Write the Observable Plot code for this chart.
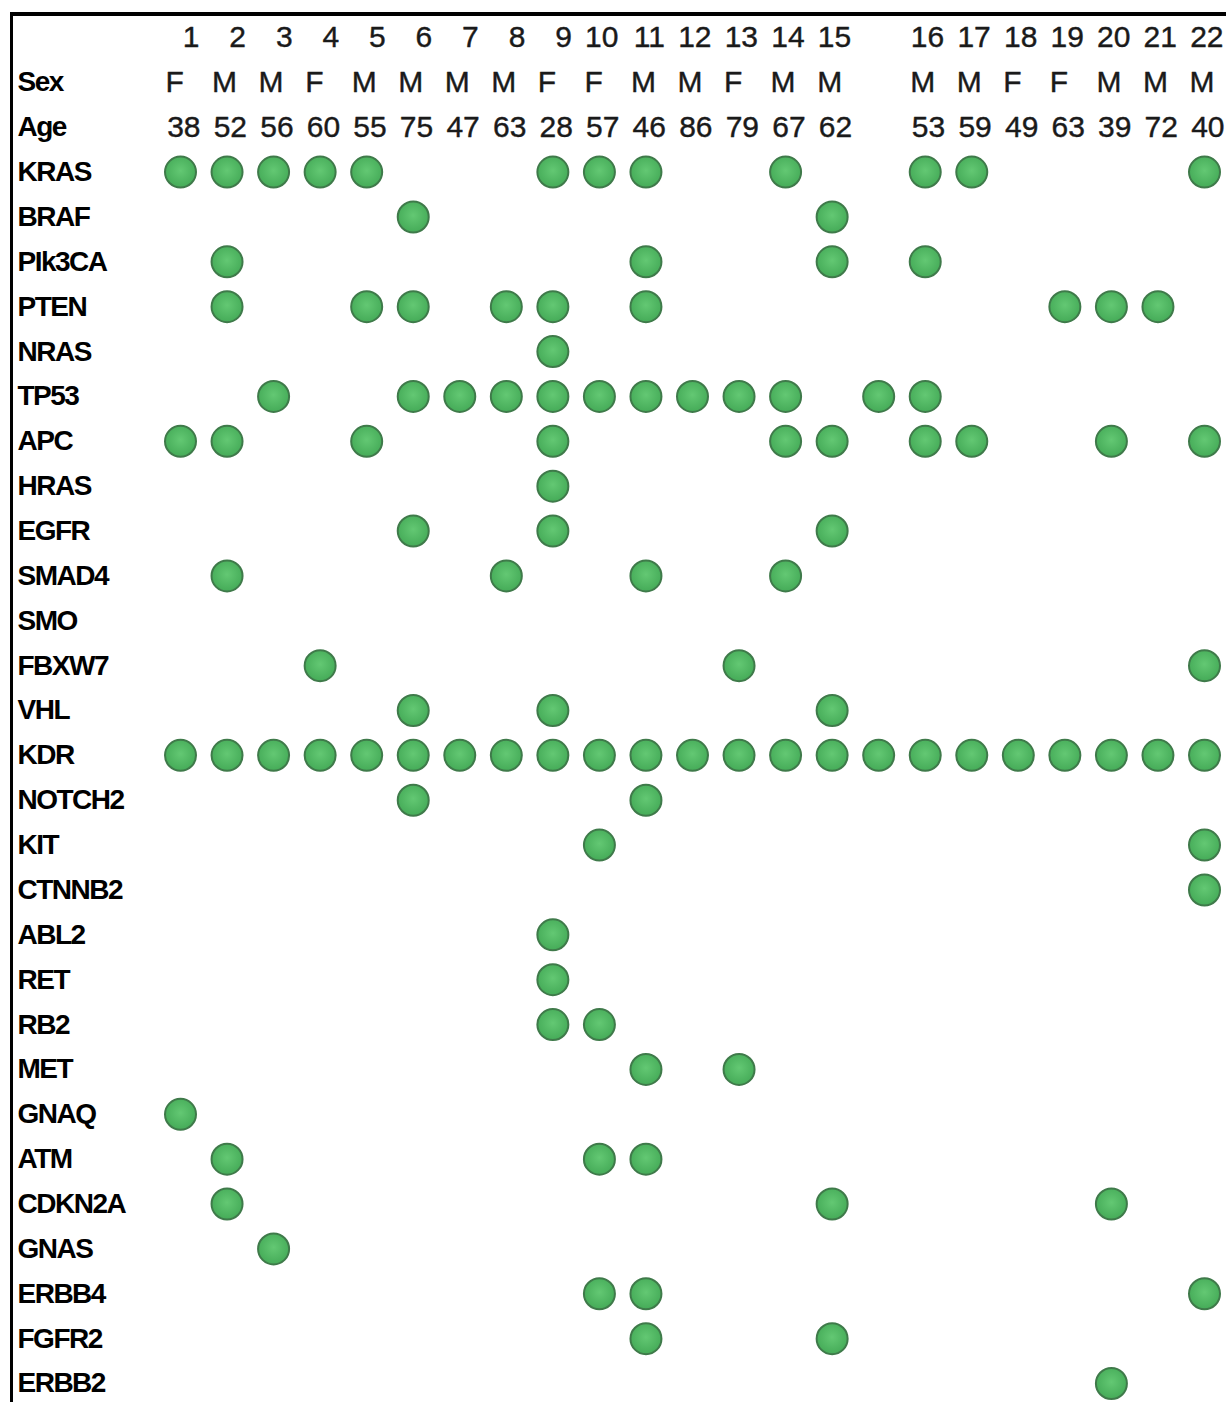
<!DOCTYPE html>
<html>
<head>
<meta charset="utf-8">
<script src="https://cdn.jsdelivr.net/npm/d3@7"></script>
<script src="https://cdn.jsdelivr.net/npm/@observablehq/plot@0.6"></script>
<style>
  html, body { margin: 0; padding: 0; background: #fff; }
  #wrap { position: relative; width: 1226px; height: 1402px; overflow: hidden; }
  #wrap svg { position: absolute; left: 0; top: 0; }
  #border { position: absolute; left: 10px; top: 12px; right: -10px; bottom: -10px;
            border-top: 4px solid #000; border-left: 3px solid #000; pointer-events: none; }
</style>
</head>
<body>
<div id="wrap"><div id="border"></div></div>
<script>
// Patient columns ("*" = unnumbered column between 15 and 16)
const columnKeys = ["1","2","3","4","5","6","7","8","9","10","11","12","13","14","15","*","16","17","18","19","20","21","22"];
const sexes = ["F","M","M","F","M","M","M","M","F","F","M","M","F","M","M","","M","M","F","F","M","M","M"];
const ages = [38,52,56,60,55,75,47,63,28,57,46,86,79,67,62,null,53,59,49,63,39,72,40];

const genes = ["KRAS","BRAF","PIk3CA","PTEN","NRAS","TP53","APC","HRAS","EGFR","SMAD4","SMO","FBXW7","VHL","KDR","NOTCH2","KIT","CTNNB2","ABL2","RET","RB2","MET","GNAQ","ATM","CDKN2A","GNAS","ERBB4","FGFR2","ERBB2"];

// Mutated columns for each gene (same order as genes)
const mutatedColumns = [
  ["1","2","3","4","5","9","10","11","14","16","17","22"],
  ["6","15"],
  ["2","11","15","16"],
  ["2","5","6","8","9","11","19","20","21"],
  ["9"],
  ["3","6","7","8","9","10","11","12","13","14","*","16"],
  ["1","2","5","9","14","15","16","17","20","22"],
  ["9"],
  ["6","9","15"],
  ["2","8","11","14"],
  [],
  ["4","13","22"],
  ["6","9","15"],
  ["1","2","3","4","5","6","7","8","9","10","11","12","13","14","15","*","16","17","18","19","20","21","22"],
  ["6","11"],
  ["10","22"],
  ["22"],
  ["9"],
  ["9"],
  ["9","10"],
  ["11","13"],
  ["1"],
  ["2","10","11"],
  ["2","15","20"],
  ["3"],
  ["10","11","22"],
  ["11","15"],
  ["20"]
];

const rowKeys = ["#", "Sex", "Age", ...genes];

const dots = genes.flatMap((g, i) => mutatedColumns[i].map(c => ({gene: g, col: c})));
const headerCols = columnKeys.filter(k => k !== "*");
const sexData = columnKeys.map((k, i) => ({k, s: sexes[i]})).filter(d => d.s);
const ageData = columnKeys.map((k, i) => ({k, a: ages[i]})).filter(d => d.a != null);

const chart = Plot.plot({
  width: 1226,
  height: 1402,
  marginTop: 12,
  marginLeft: 11,
  marginRight: 0,
  marginBottom: 0,
  style: {fontFamily: "'Liberation Sans', Arial, sans-serif", background: "transparent", color: "#111"},
  x: {type: "point", domain: columnKeys, range: [180, 1204], padding: 0, round: false, axis: null},
  y: {type: "point", domain: rowKeys, range: [37, 1383], padding: 0, round: false, axis: null},
  marks: [
    Plot.text(headerCols, {x: d => d, y: () => "#", text: d => d, textAnchor: "end", dx: 19, fontSize: 30, fill: "#1a1a1a", stroke: "#1a1a1a", strokeWidth: 0.4}),
    Plot.text(sexData, {x: "k", y: () => "Sex", text: "s", textAnchor: "start", dx: -15, fontSize: 30, fill: "#1a1a1a", stroke: "#1a1a1a", strokeWidth: 0.4}),
    Plot.text(ageData, {x: "k", y: () => "Age", text: "a", textAnchor: "end", dx: 20, fontSize: 30, fill: "#1a1a1a", stroke: "#1a1a1a", strokeWidth: 0.4}),
    Plot.text(rowKeys.filter(k => k !== "#"), {y: d => d, text: d => d, frameAnchor: "left", textAnchor: "start", dx: 6, fontSize: 28, fontWeight: "bold", fill: "#000"}),
    Plot.dot(dots, {x: "col", y: "gene", r: 15.5, fill: "url(#dotGrad)", stroke: "#3f7a4a", strokeWidth: 2})
  ]
});

const svg = d3.select(chart);
const defs = svg.insert("defs", ":first-child");
const grad = defs.append("radialGradient").attr("id", "dotGrad").attr("cx", "50%").attr("cy", "45%").attr("r", "55%");
grad.append("stop").attr("offset", "0%").attr("stop-color", "#63c873");
grad.append("stop").attr("offset", "100%").attr("stop-color", "#45ab58");
svg.selectAll("g[font-weight=bold] text").attr("letter-spacing", "-1.5");

document.getElementById("wrap").prepend(chart);
</script>
</body>
</html>
